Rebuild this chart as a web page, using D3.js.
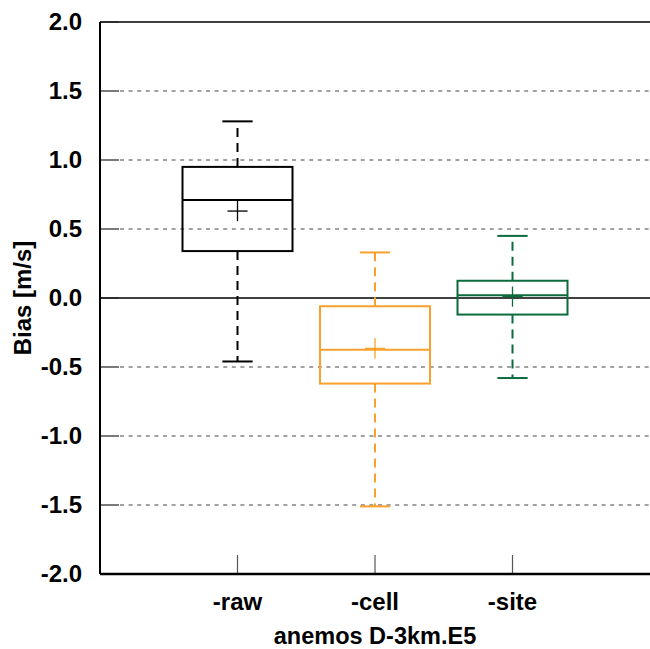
<!DOCTYPE html>
<html>
<head>
<meta charset="utf-8">
<script src="https://cdn.jsdelivr.net/npm/d3@7"></script>
<style>
  body { margin: 0; background: #fff; }
  text { font-family: "Liberation Sans", Arial, sans-serif; font-weight: bold; }
</style>
</head>
<body>
<div id="chart"></div>
<script>
// box plot values
var groups = ["-raw", "-cell", "-site"];
var groupPos = [1, 2, 3];
var whiskerHigh = [1.28, 0.33, 0.45];
var q3 = [0.95, -0.06, 0.125];
var median = [0.71, -0.375, 0.02];
var q1 = [0.34, -0.62, -0.12];
var whiskerLow = [-0.46, -1.51, -0.58];
var means = [0.63, -0.365, 0.01];
var colors = ["#000000", "#f9a12c", "#0b6b3b"];
var yTicks = [-2, -1.5, -1, -0.5, 0, 0.5, 1, 1.5, 2];

var width = 650, height = 649;
var margin = {top: 22, right: 0, bottom: 75, left: 100};

var svg = d3.select("#chart")
    .append("svg")
    .attr("width", width)
    .attr("height", height);

var x = d3.scaleLinear().domain([0, 4]).range([margin.left, width - margin.right]);
var y = d3.scaleLinear().domain([-2, 2]).range([height - margin.bottom, margin.top]);

// grid lines
svg.append("g")
    .selectAll("line")
    .data(yTicks.filter(function(d) { return d != 0 && d != 2 && d != -2; }))
    .enter()
    .append("line")
    .attr("x1", x(0) + 20).attr("x2", x(4))
    .attr("y1", function(d) { return y(d); })
    .attr("y2", function(d) { return y(d); })
    .attr("stroke", "#444")
    .attr("stroke-width", 1.2)
    .attr("stroke-dasharray", "4,4.6");

// zero line and top line
svg.append("line")
    .attr("x1", x(0)).attr("x2", x(4))
    .attr("y1", y(0)).attr("y2", y(0))
    .attr("stroke", "#000").attr("stroke-width", 1.3);
svg.append("line")
    .attr("x1", x(0)).attr("x2", x(4))
    .attr("y1", y(2)).attr("y2", y(2))
    .attr("stroke", "#000").attr("stroke-width", 1.3);

// inward y ticks
svg.append("g")
    .selectAll("line")
    .data(yTicks)
    .enter()
    .append("line")
    .attr("x1", x(0)).attr("x2", x(0) + 19)
    .attr("y1", function(d) { return y(d); })
    .attr("y2", function(d) { return y(d); })
    .attr("stroke", "#222").attr("stroke-width", 1.2);

// x ticks pointing up
svg.append("g")
    .selectAll("line")
    .data(groupPos)
    .enter()
    .append("line")
    .attr("x1", function(d) { return x(d); })
    .attr("x2", function(d) { return x(d); })
    .attr("y1", y(-2)).attr("y2", y(-2) - 19)
    .attr("stroke", "#555").attr("stroke-width", 1.2);

// y axis labels
var yAxis = d3.axisLeft(y)
    .tickValues(yTicks)
    .tickFormat(function(d) { return d.toFixed(1); })
    .tickSize(0)
    .tickPadding(18);
var gy = svg.append("g")
    .attr("transform", "translate(" + x(0) + ",0)")
    .call(yAxis);
gy.select(".domain").remove();
gy.selectAll("text")
    .attr("font-family", "Liberation Sans, Arial, sans-serif")
    .attr("font-size", 24)
    .attr("font-weight", "bold")
    .attr("fill", "#000");

// axis frame lines
svg.append("line")
    .attr("x1", x(0)).attr("x2", x(0))
    .attr("y1", y(2)).attr("y2", y(-2))
    .attr("stroke", "#000").attr("stroke-width", 2);
svg.append("line")
    .attr("x1", x(0)).attr("x2", x(4))
    .attr("y1", y(-2)).attr("y2", y(-2))
    .attr("stroke", "#000").attr("stroke-width", 2.5);

// x category labels
svg.append("g")
    .selectAll("text")
    .data(groups)
    .enter()
    .append("text")
    .attr("x", function(d, i) { return x(groupPos[i]); })
    .attr("y", y(-2) + 36)
    .attr("text-anchor", "middle")
    .attr("font-size", 24)
    .text(function(d) { return d; });

// x title
svg.append("text")
    .attr("x", x(2))
    .attr("y", 644)
    .attr("text-anchor", "middle")
    .attr("font-size", 23.5)
    .text("anemos D-3km.E5");

// y title
svg.append("text")
    .attr("transform", "translate(31," + y(0) + ") rotate(-90)")
    .attr("text-anchor", "middle")
    .attr("font-size", 24)
    .text("Bias [m/s]");

// boxes
var boxHalf = 0.4, capHalf = 0.11, crossHalf = 0.073;
var boxes = svg.append("g")
    .selectAll("g")
    .data(groups)
    .enter()
    .append("g");

boxes.each(function(d, i) {
    var g = d3.select(this);
    var c = colors[i], p = groupPos[i];
    // whiskers
    g.append("line")
        .attr("x1", x(p)).attr("x2", x(p))
        .attr("y1", y(q3[i])).attr("y2", y(whiskerHigh[i]))
        .attr("stroke", c).attr("stroke-width", 2)
        .attr("stroke-dasharray", "9,6");
    g.append("line")
        .attr("x1", x(p)).attr("x2", x(p))
        .attr("y1", y(q1[i])).attr("y2", y(whiskerLow[i]))
        .attr("stroke", c).attr("stroke-width", 2)
        .attr("stroke-dasharray", "9,6");
    // caps
    [whiskerHigh[i], whiskerLow[i]].forEach(function(v) {
        g.append("line")
            .attr("x1", x(p - capHalf)).attr("x2", x(p + capHalf))
            .attr("y1", y(v)).attr("y2", y(v))
            .attr("stroke", c).attr("stroke-width", 2);
    });
    // box
    g.append("rect")
        .attr("x", x(p - boxHalf))
        .attr("y", y(q3[i]))
        .attr("width", x(p + boxHalf) - x(p - boxHalf))
        .attr("height", y(q1[i]) - y(q3[i]))
        .attr("fill", "none")
        .attr("stroke", c).attr("stroke-width", 2);
    // median
    g.append("line")
        .attr("x1", x(p - boxHalf)).attr("x2", x(p + boxHalf))
        .attr("y1", y(median[i])).attr("y2", y(median[i]))
        .attr("stroke", c).attr("stroke-width", 2);
    // mean cross
    g.append("line")
        .attr("x1", x(p - crossHalf)).attr("x2", x(p + crossHalf))
        .attr("y1", y(means[i])).attr("y2", y(means[i]))
        .attr("stroke", c).attr("stroke-width", 1.3);
    g.append("line")
        .attr("x1", x(p)).attr("x2", x(p))
        .attr("y1", y(means[i] + crossHalf)).attr("y2", y(means[i] - crossHalf))
        .attr("stroke", c).attr("stroke-width", 1.3);
});
</script>
</body>
</html>
